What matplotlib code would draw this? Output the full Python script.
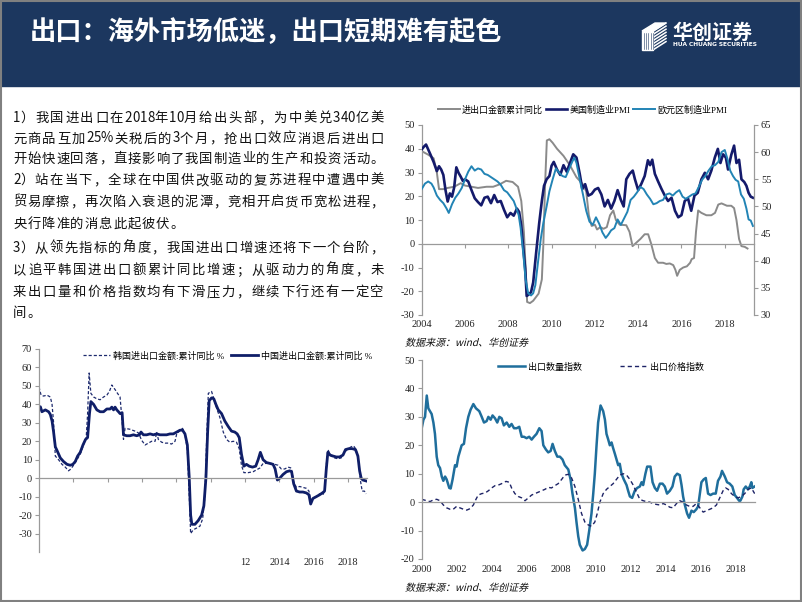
import matplotlib
matplotlib.use("Agg")
import matplotlib.pyplot as plt
from matplotlib.patches import Rectangle, Polygon, PathPatch
from matplotlib.textpath import TextPath
from matplotlib.font_manager import FontProperties
from matplotlib.transforms import Affine2D

plt.rcParams['font.family'] = ['Liberation Serif', 'Noto Sans CJK SC']
plt.rcParams['axes.unicode_minus'] = False

# ---------------- data ----------------
title = "出口：海外市场低迷，出口短期难有起色"
source = "数据来源：wind、华创证券"
body_lines = [
    "1）我国进出口在2018年10月给出头部，为中美兑340亿美",
    "元商品互加25%关税后的3个月，抢出口效应消退后进出口",
    "开始快速回落，直接影响了我国制造业的生产和投资活动。",
    "2）站在当下，全球在中国供改驱动的复苏进程中遭遇中美",
    "贸易摩擦，再次陷入衰退的泥潭，竞相开启货币宽松进程，",
    "央行降准的消息此起彼伏。",
    "3）从领先指标的角度，我国进出口增速还将下一个台阶，",
    "以追平韩国进出口额累计同比增速；从驱动力的角度，未",
    "来出口量和价格指数均有下滑压力，继续下行还有一定空",
    "间。",
]

# top right: trade yoy (left axis), US / euro PMI (right axis)
trade_x = [2004.0, 2004.3, 2004.55, 2004.7, 2004.8, 2005.0, 2005.2, 2005.5, 2005.8, 2006.0,
           2006.3, 2006.6, 2007.0, 2007.3, 2007.6, 2007.9, 2008.2, 2008.45, 2008.6, 2008.72,
           2008.8, 2008.87, 2009.0, 2009.15, 2009.4, 2009.55, 2009.62, 2009.7, 2009.78, 2009.9,
           2010.05, 2010.25, 2010.55, 2010.85, 2011.15, 2011.45, 2011.6, 2011.72, 2011.85, 2012.0,
           2012.1, 2012.25, 2012.4, 2012.55, 2012.7, 2012.85, 2012.97, 2013.15, 2013.45, 2013.6,
           2013.74, 2013.92, 2014.1, 2014.3, 2014.46, 2014.6, 2014.77, 2014.92, 2015.15, 2015.3,
           2015.46, 2015.62, 2015.72, 2015.8, 2015.92, 2016.08, 2016.25, 2016.4, 2016.47, 2016.58,
           2016.67, 2016.77, 2016.92, 2017.15, 2017.38, 2017.55, 2017.7, 2017.85, 2018.1, 2018.3,
           2018.43, 2018.54, 2018.66, 2018.77, 2018.92, 2019.05]
trade_y = [39, 37.5, 36, 30, 23, 23, 23.5, 24, 25.5, 24.5,
           24, 23.5, 24, 24, 25, 26.5, 26, 24, 18, 5,
           -10, -24.5, -25, -24, -21, -15, 0, 25, 43.5, 44,
           42.5, 40, 37, 33, 28, 25, 22, 12, 7.5, 8,
           6, 7, 6.3, 7, 12, 14, 10, 8, 7.8, 5,
           -1, 0.5, 2, 4, 4, 0, -6, -8, -8, -8.5,
           -8.3, -9, -11, -13.5, -11, -10, -9.5, -8, -6.5, -6,
           5, 14, 13, 12, 12, 13, 16.5, 17, 16, 16,
           15, 10, 2, -1, -1.3, -2]

us_x = [2004.0, 2004.1, 2004.2, 2004.3, 2004.4, 2004.55, 2004.7, 2004.8, 2004.9, 2005.0,
        2005.1, 2005.2, 2005.3, 2005.4, 2005.5, 2005.6, 2005.7, 2005.8, 2005.9, 2006.0,
        2006.15, 2006.3, 2006.45, 2006.6, 2006.75, 2006.9, 2007.05, 2007.2, 2007.35, 2007.5,
        2007.65, 2007.8, 2007.95, 2008.1, 2008.25, 2008.4, 2008.5, 2008.6, 2008.7, 2008.78,
        2008.85, 2008.95, 2009.05, 2009.15, 2009.3, 2009.43, 2009.55, 2009.65, 2009.77, 2009.9,
        2010.0, 2010.1, 2010.25, 2010.4, 2010.55, 2010.7, 2010.85, 2011.0, 2011.15, 2011.3,
        2011.42, 2011.55, 2011.7, 2011.85, 2012.0, 2012.15, 2012.3, 2012.45, 2012.6, 2012.75,
        2012.9, 2013.05, 2013.2, 2013.33, 2013.45, 2013.6, 2013.75, 2013.85, 2014.0, 2014.15,
        2014.3, 2014.45, 2014.55, 2014.65, 2014.77, 2014.92, 2015.08, 2015.23, 2015.38, 2015.54,
        2015.7, 2015.85, 2016.0, 2016.15, 2016.3, 2016.45, 2016.6, 2016.75, 2016.92, 2017.08,
        2017.23, 2017.38, 2017.54, 2017.68, 2017.8, 2017.92, 2018.05, 2018.15, 2018.3, 2018.43,
        2018.54, 2018.66, 2018.77, 2018.9, 2019.0, 2019.1, 2019.2, 2019.3]
us_pmi = [60.5, 61.0, 61.4, 60.5, 59.6, 58.2, 56.5, 57.4, 56.8, 55.8,
          53.0, 50.9, 52.4, 51.8, 53.5, 57.2, 56.2, 55.5, 54.7, 55.0,
          54.6, 53.0, 51.5, 50.8, 50.2, 51.6, 51.8, 50.6, 52.1, 50.8,
          51.0, 49.4, 48.0, 48.8, 48.3, 49.6, 49.0, 46.5, 42.0, 38.5,
          33.5, 33.8, 34.2, 36.0, 42.0, 47.0, 51.0, 53.8, 55.0, 55.6,
          57.5, 58.2, 56.8, 55.8, 57.6, 56.4, 58.0, 59.6, 59.0, 56.0,
          53.2, 54.1, 52.0, 52.3, 53.1, 53.4, 52.2, 50.0, 51.2, 49.6,
          51.0, 53.0, 51.2, 50.0, 55.0, 56.0, 56.6, 55.0, 53.0, 54.2,
          55.6, 58.5, 57.6, 58.6, 56.0, 54.6, 53.2, 52.0, 51.0, 51.6,
          49.2, 48.0, 48.4, 51.0, 51.5, 49.2, 52.0, 52.5, 55.0, 56.2,
          55.0, 56.6, 59.0, 60.6, 58.0, 59.6, 59.0, 56.8, 59.5, 61.2,
          58.0, 58.6, 55.0, 54.5, 53.8, 52.5, 51.8, 51.6]

eu_x = [2004.0, 2004.15, 2004.3, 2004.45, 2004.55, 2004.7, 2004.85, 2005.0, 2005.15, 2005.25,
        2005.4, 2005.55, 2005.7, 2005.85, 2006.0, 2006.15, 2006.3, 2006.45, 2006.6, 2006.75,
        2006.9, 2007.05, 2007.2, 2007.35, 2007.5, 2007.65, 2007.8, 2007.95, 2008.1, 2008.25,
        2008.38, 2008.48, 2008.57, 2008.7, 2008.8, 2008.92, 2009.05, 2009.15, 2009.25, 2009.38,
        2009.5, 2009.62, 2009.77, 2009.9, 2010.05, 2010.2, 2010.35, 2010.5, 2010.65, 2010.8,
        2010.95, 2011.05, 2011.15, 2011.3, 2011.45, 2011.6, 2011.75, 2011.9, 2012.05, 2012.2,
        2012.35, 2012.5, 2012.62, 2012.75, 2012.9, 2013.05, 2013.2, 2013.35, 2013.5, 2013.65,
        2013.8, 2013.95, 2014.1, 2014.25, 2014.4, 2014.55, 2014.7, 2014.85, 2015.0, 2015.15,
        2015.3, 2015.45, 2015.6, 2015.75, 2015.9, 2016.05, 2016.2, 2016.35, 2016.5, 2016.65,
        2016.8, 2016.95, 2017.1, 2017.25, 2017.4, 2017.55, 2017.7, 2017.85, 2018.0, 2018.12,
        2018.25, 2018.38, 2018.5, 2018.62, 2018.75, 2018.88, 2019.0, 2019.1, 2019.2, 2019.3]
eu_pmi = [53.2, 54.2, 54.6, 54.2, 53.5, 52.0, 51.2, 50.6, 49.6, 48.8,
          50.4, 51.6, 52.4, 53.4, 55.0, 56.4, 57.4, 56.6, 57.0, 56.8,
          56.0, 55.8, 55.4, 55.0, 54.6, 54.0, 53.0, 52.6, 51.8, 51.0,
          49.6, 48.4, 46.0, 41.0, 36.5, 34.0, 33.6, 34.0, 35.5, 40.0,
          44.0, 47.0, 50.0, 52.8, 55.0, 57.0, 56.2, 55.6, 55.4, 56.8,
          58.2, 59.0, 58.0, 55.0, 52.2, 49.2, 47.2, 46.6, 48.0, 46.8,
          45.2, 44.2, 44.8, 45.6, 46.0, 47.6, 46.6, 47.8, 49.0, 51.2,
          51.8, 52.6, 53.6, 53.2, 52.2, 51.4, 50.4, 50.6, 51.0, 51.2,
          52.2, 52.4, 52.0, 52.6, 53.0, 51.8, 51.4, 51.8, 52.2, 52.4,
          53.6, 54.9, 55.6, 56.6, 57.4, 57.6, 58.2, 60.0, 60.4, 58.8,
          56.6, 55.6, 54.9, 54.6, 52.2, 51.4, 49.6, 47.6, 47.4, 46.4]

# bottom left: Korea / China trade cumulative yoy
cn_x = [2000.0, 2000.08, 2000.17, 2000.37, 2000.56, 2000.66, 2000.76, 2000.85, 2000.95, 2001.05,
        2001.24, 2001.43, 2001.63, 2001.82, 2001.97, 2002.11, 2002.25, 2002.4, 2002.56, 2002.71,
        2002.83, 2002.94, 2003.02, 2003.18, 2003.37, 2003.56, 2003.76, 2003.95, 2004.14, 2004.24,
        2004.34, 2004.43, 2004.53, 2004.63, 2004.72, 2004.84, 2004.92, 2005.11, 2005.3, 2005.5,
        2005.69, 2005.85, 2005.94, 2006.08, 2006.27, 2006.47, 2006.66, 2006.85, 2007.05, 2007.24,
        2007.43, 2007.63, 2007.82, 2008.02, 2008.21, 2008.36, 2008.5, 2008.64, 2008.75, 2008.83,
        2008.9, 2009.08, 2009.27, 2009.47, 2009.6, 2009.72, 2009.82, 2009.91, 2010.05, 2010.18,
        2010.3, 2010.44, 2010.63, 2010.82, 2011.02, 2011.21, 2011.4, 2011.54, 2011.66, 2011.79,
        2011.93, 2012.08, 2012.24, 2012.43, 2012.62, 2012.76, 2012.89, 2013.05, 2013.24, 2013.44,
        2013.63, 2013.75, 2013.88, 2014.02, 2014.21, 2014.41, 2014.6, 2014.71, 2014.83, 2014.99,
        2015.18, 2015.37, 2015.57, 2015.72, 2015.82, 2015.95, 2016.15, 2016.34, 2016.5, 2016.63,
        2016.73, 2016.82, 2016.96, 2017.12, 2017.31, 2017.5, 2017.7, 2017.85, 2018.04, 2018.24,
        2018.43, 2018.57, 2018.67, 2018.76, 2018.86, 2019.05]
cn_y = [38, 38.7, 36, 37, 36, 34.5, 31, 25, 17, 15,
        11, 9, 7.5, 7, 7.5, 9, 12, 14, 18, 21,
        22, 35, 41.5, 40, 37, 36, 36, 37.5, 37.5, 38.5,
        37, 38.5, 37, 36, 35, 35.5, 23.5, 23, 23, 23.5,
        23, 23.5, 25, 23.5, 23.5, 24, 23.5, 24, 23.5, 23.5,
        23.5, 24, 24, 25, 26, 26, 24, 18, 0, -20,
        -25, -25, -23, -20, -15, 0, 25, 42, 43.5, 43,
        40, 37, 35, 31, 28, 25.5, 25, 24, 22, 13,
        6.5, 7.5, 6.5, 6, 6.5, 10, 14, 10, 8.5, 8,
        7.5, 5, -1, 0, 2, 3.5, 4, 3.5, -3, -7,
        -7.5, -7.5, -8, -9, -14, -11, -10, -9, -8, -7,
        5, 14, 12.5, 12, 11.5, 11.5, 12.5, 15.5, 16, 16,
        15.5, 12, 4, 0, -1, -1.5]

kr_x = [2000.0, 2000.12, 2000.27, 2000.46, 2000.66, 2000.76, 2000.85, 2000.95, 2001.14, 2001.34,
        2001.53, 2001.72, 2001.86, 2002.01, 2002.21, 2002.4, 2002.59, 2002.75, 2002.83, 2002.92,
        2003.02, 2003.18, 2003.37, 2003.56, 2003.76, 2003.95, 2004.1, 2004.24, 2004.43, 2004.57,
        2004.72, 2004.82, 2004.92, 2005.01, 2005.3, 2005.59, 2005.79, 2005.98, 2006.18, 2006.37,
        2006.56, 2006.76, 2006.85, 2006.95, 2007.14, 2007.34, 2007.53, 2007.72, 2007.92, 2008.02,
        2008.21, 2008.36, 2008.5, 2008.64, 2008.75, 2008.83, 2008.98, 2009.18, 2009.37, 2009.53,
        2009.66, 2009.76, 2009.86, 2010.05, 2010.18, 2010.34, 2010.53, 2010.73, 2010.92, 2011.11,
        2011.31, 2011.5, 2011.66, 2011.79, 2011.93, 2012.18, 2012.47, 2012.66, 2012.86, 2013.05,
        2013.24, 2013.53, 2013.73, 2013.92, 2014.11, 2014.31, 2014.5, 2014.69, 2014.83, 2014.99,
        2015.18, 2015.37, 2015.57, 2015.72, 2015.82, 2015.95, 2016.15, 2016.34, 2016.53, 2016.63,
        2016.73, 2016.82, 2017.01, 2017.21, 2017.41, 2017.6, 2017.79, 2017.99, 2018.18, 2018.32,
        2018.47, 2018.63, 2018.73, 2018.82, 2018.95, 2019.05]
kr_y = [49.5, 45, 44.5, 45, 44, 40, 30, 12, 10, 7.5,
        6, 4, 5, 7, 10, 13, 18, 22, 35, 57,
        46, 44, 43, 42.5, 44, 45, 47, 50.5, 48, 46,
        44, 33, 21, 27, 26.5, 25.5, 24.5, 20.5, 18, 19,
        20, 20, 25, 21, 19.5, 19, 19, 18.5, 20, 24,
        26, 27, 24, 15, -10, -30, -28, -27, -26, -22,
        -10, 20, 46, 47, 43, 38, 33, 25, 21, 19.5,
        20, 19.5, 16, 7, 3, 3, 3.5, 4.5, 5.5, 8,
        8, 8, 7.5, 7, 5, 5, 6, 5.5, -2, -5,
        -4.5, -5, -5.5, -7, -12, -11, -10, -8.5, -9, -7,
        7, 15.5, 12, 11, 10.5, 11, 14, 16, 17, 17.5,
        15.5, 8, -2, -7, -7, -8.5]

# bottom right: export volume / price index
vol_x = [2000.0, 2000.1, 2000.19, 2000.29, 2000.38, 2000.57, 2000.67, 2000.76, 2000.86, 2000.95,
         2001.05, 2001.15, 2001.24, 2001.34, 2001.43, 2001.58, 2001.66, 2001.77, 2001.91, 2002.0,
         2002.1, 2002.29, 2002.42, 2002.54, 2002.67, 2002.8, 2002.96, 2003.11, 2003.3, 2003.44,
         2003.57, 2003.72, 2003.82, 2003.95, 2004.06, 2004.2, 2004.33, 2004.45, 2004.58, 2004.71,
         2004.87, 2005.02, 2005.15, 2005.29, 2005.44, 2005.59, 2005.73, 2005.86, 2006.01, 2006.16,
         2006.3, 2006.43, 2006.58, 2006.74, 2006.87, 2006.97, 2007.12, 2007.25, 2007.39, 2007.5,
         2007.63, 2007.77, 2007.92, 2008.07, 2008.2, 2008.4, 2008.53, 2008.64, 2008.78, 2008.87,
         2008.97, 2009.06, 2009.22, 2009.35, 2009.48, 2009.6, 2009.73, 2009.83, 2009.92, 2010.02,
         2010.11, 2010.25, 2010.4, 2010.5, 2010.59, 2010.69, 2010.78, 2010.88, 2010.97, 2011.07,
         2011.26, 2011.35, 2011.45, 2011.58, 2011.74, 2011.83, 2011.93, 2012.06, 2012.21, 2012.35,
         2012.5, 2012.6, 2012.69, 2012.82, 2012.92, 2013.11, 2013.23, 2013.36, 2013.49, 2013.65,
         2013.8, 2013.93, 2014.06, 2014.22, 2014.37, 2014.5, 2014.64, 2014.79, 2014.89, 2014.98,
         2015.08, 2015.21, 2015.32, 2015.46, 2015.59, 2015.74, 2015.84, 2015.94, 2016.03, 2016.16,
         2016.28, 2016.41, 2016.55, 2016.7, 2016.85, 2016.98, 2017.12, 2017.21, 2017.37, 2017.5,
         2017.65, 2017.8, 2017.94, 2018.07, 2018.19, 2018.26, 2018.38, 2018.45, 2018.57, 2018.7,
         2018.8, 2018.89, 2018.95, 2019.08]
vol_y = [26, 29, 30, 37.5, 33, 31, 28, 24, 16, 13,
         12, 9, 7.5, 9, 8, 5, 4.8, 8, 13, 12.5,
         16, 20, 20.5, 26, 30, 32.5, 34.5, 33, 32, 30,
         28, 28.5, 30, 29, 30.5, 29.5, 28, 30, 29.5, 27,
         28, 26.5, 27.5, 26, 26, 26.5, 23, 23, 22.5, 23,
         22, 23, 24, 26, 25, 20, 18.5, 17.5, 18, 20.5,
         18, 16, 16, 15, 13, 11.5, 8, 3, -2, -7,
         -12, -15, -17, -16.5, -15, -10, -4, 3, 10, 20,
         28, 34, 32, 29, 24, 22, 20, 21, 19, 17,
         13, 13.5, 10, 8, 6, 4, 2, 1.5, 4, 5,
         5.5, 7, 6, 10, 12.5, 12.5, 7, 5, 4, 6.5,
         6.5, 5.5, 3, 4, 5.5, 9, 10, 9.5, 6, 2,
         -1, -4, -5.5, -3, -3.5, -2.5, -1.5, 3, 7, 8,
         8.5, 3, 2.5, 3, 3, 7.5, 9, 11, 9, 7,
         6.5, 5.5, 2.5, 1.5, 0.5, 0.5, 2, 4.5, 5.5, 4.5,
         5.5, 7, 5, 5.5]

price_x = [2000.0, 2000.29, 2000.48, 2000.67, 2000.86, 2001.05, 2001.24, 2001.43, 2001.62, 2001.81,
           2002.0, 2002.19, 2002.39, 2002.58, 2002.77, 2002.96, 2003.11, 2003.24, 2003.44, 2003.63,
           2003.82, 2004.01, 2004.2, 2004.39, 2004.58, 2004.83, 2005.02, 2005.15, 2005.34, 2005.53,
           2005.73, 2005.92, 2006.11, 2006.3, 2006.49, 2006.68, 2006.87, 2007.06, 2007.25, 2007.44,
           2007.63, 2007.82, 2008.02, 2008.2, 2008.4, 2008.59, 2008.78, 2008.97, 2009.16, 2009.35,
           2009.54, 2009.73, 2009.92, 2010.06, 2010.21, 2010.4, 2010.59, 2010.78, 2010.97, 2011.16,
           2011.35, 2011.55, 2011.74, 2011.93, 2012.12, 2012.31, 2012.5, 2012.69, 2012.88, 2013.07,
           2013.26, 2013.45, 2013.65, 2013.84, 2014.03, 2014.22, 2014.41, 2014.6, 2014.79, 2014.98,
           2015.17, 2015.36, 2015.55, 2015.74, 2015.94, 2016.13, 2016.32, 2016.51, 2016.7, 2016.89,
           2017.08, 2017.27, 2017.42, 2017.56, 2017.75, 2017.94, 2018.13, 2018.32, 2018.51, 2018.7,
           2018.89, 2019.08]
price_y = [1, 0.5, 0.2, 0.8, 1, 0.5, -1, -2, -2.5, -2.5,
           -1.5, -2, -2.5, -2.8, -2.3, -1, 1, 2.5, 3, 3.2,
           4, 5, 5.8, 6, 6.5, 7.3, 7, 5, 3, 2,
           1.5, 0.5, 1.5, 2.5, 3, 3.5, 4, 4.5, 5.2, 5,
           5.8, 6.5, 8, 9.5, 9.8, 8.5, 5.5, 1, -4, -7,
           -8, -8.5, -7, -4, 0, 3, 4.5, 5.5, 6.5, 8,
           9.5, 10, 9.5, 8, 6, 3.5, 1, 0.5, 0.2, 0,
           -0.5, -0.8, -1, -0.5, -1, -1.8, -2, -0.5, 0.5, 0,
           -1, -1.5, -1.5, -0.5, -2, -3.5, -3, -2.5, -2, -1,
           1.5, 4, 5, 4.5, 3, 2, 1.5, 2, 3, 4.5,
           5, 3]

# ---------------- page ----------------
W, H = 802, 602
NAVY = '#1c375f'
GRID = '#9a9a9a'
cjk = 'Noto Sans CJK SC'
legend_font = FontProperties(family=['Liberation Serif', cjk], size=6.5)

fig = plt.figure(figsize=(8.02, 6.02), dpi=100)
bg = fig.add_axes([0, 0, 1, 1])
bg.set_xlim(0, W)
bg.set_ylim(H, 0)
bg.axis('off')

# header bar
bg.add_patch(Rectangle((0, 0), W, 86, color=NAVY, zorder=1))
bg.text(30, 33, title, color='white', fontsize=18.9, fontweight='bold',
        family=cjk, va='center', ha='left', zorder=3)

# logo
bg.add_patch(Polygon([(642, 31), (653, 31), (653, 50), (642, 50)], color='white', zorder=2))
bg.add_patch(Polygon([(642, 31), (653, 31), (666, 23), (655, 23)], color='white', zorder=2))
for k in range(7):
    y0 = 31 + k * 3.1
    bg.plot([653.5, 666], [y0, y0 - 8], color='white', lw=1.1, zorder=2)
for k in range(5):
    bg.plot([644 + k * 2.2, 644 + k * 2.2], [33, 49], color=NAVY, lw=0.4, zorder=2)
bg.text(672, 32, "华创证券", color='white', fontsize=14.4, fontweight='bold',
        family=cjk, va='center', ha='left', zorder=3)
bg.text(673, 44.8, "HUA CHUANG SECURITIES", color='white', fontsize=4.2,
        fontweight='bold', family='DejaVu Sans', va='center', ha='left', zorder=3)

# slide frame
bg.add_patch(Rectangle((1, 1), W - 2, H - 2, fill=False, ec='#808080', lw=1.5, zorder=4))

# body text, justified character by character
x_left, x_right = 13, 385
line_ys = [118, 138.5, 158.5, 180, 202, 224, 248, 270, 292, 313]
justify = [True, True, True, True, True, False, True, True, True, False]
for s, y, jst in zip(body_lines, line_ys, justify):
    units = [(0.9 if c == '%' else 0.5) if ord(c) < 128 else 1.0 for c in s]
    step = (x_right - x_left) / sum(units) if jst else 14.3
    pos = x_left
    for c, u in zip(s, units):
        bg.text(pos, y, c, fontsize=9.6, family=cjk, va='center', ha='left', color='#111111')
        pos += u * step


def slanted(x, y, s, size):
    tp = TextPath((0, 0), s, size=size, prop=FontProperties(family=cjk))
    tr = Affine2D().skew_deg(14, 0).scale(1, -1).translate(x, y)
    bg.add_patch(PathPatch(tr.transform_path(tp), fc='#111111', ec='none', lw=0))


slanted(405, 346, source, 10)
slanted(405, 591, source, 10)


def frame(ax, xlim, ylim, yticks, xticks, xlabels, label_pad, tick_x=True):
    ax.set_xlim(*xlim)
    ax.set_ylim(*ylim)
    ax.patch.set_alpha(0)
    for side in ['top', 'right']:
        ax.spines[side].set_visible(False)
    ax.spines['left'].set_color(GRID)
    ax.spines['left'].set_linewidth(0.9)
    ax.spines['bottom'].set_position(('data', 0))
    ax.spines['bottom'].set_color(GRID)
    ax.spines['bottom'].set_linewidth(0.9)
    ax.set_yticks(yticks)
    ax.tick_params(axis='y', direction='out', length=3, color=GRID, width=0.8,
                   labelsize=7.5, pad=2, labelcolor='#222222')
    ax.set_xticks(xticks if tick_x else [])
    ax.tick_params(axis='x', direction='out', length=3, color=GRID, width=0.8,
                   labelbottom=False)
    sec = ax.secondary_xaxis(0)
    sec.set_xticks(xticks, labels=xlabels)
    sec.spines['bottom'].set_visible(False)
    sec.tick_params(length=0, pad=label_pad, labelsize=7.5, labelcolor='#222222')
    return sec


# ---------------- top right chart ----------------
ax1 = fig.add_axes([421.7 / W, 1 - 315 / H, (754 - 421.7) / W, 190 / H])
yrs = list(range(2004, 2019, 2))
frame(ax1, (2004, 2019.35), (-30, 50), range(-30, 51, 10), yrs, [str(v) for v in yrs], 3.5)
l_tr, = ax1.plot(trade_x, trade_y, color='#8a8a8a', lw=1.4, label='进出口金额累计同比')
ax2 = ax1.twinx()
ax2.set_ylim(30, 65)
ax2.set_yticks(range(30, 66, 5))
for side in ['top', 'left', 'bottom']:
    ax2.spines[side].set_visible(False)
ax2.spines['right'].set_color(GRID)
ax2.spines['right'].set_linewidth(0.9)
ax2.tick_params(axis='y', direction='out', length=3, color=GRID, width=0.8,
                labelsize=7.5, pad=2, labelcolor='#222222')
l_us, = ax2.plot(us_x, us_pmi, color='#141a6b', lw=1.9, label='美国制造业PMI')
l_eu, = ax2.plot(eu_x, eu_pmi, color='#2284b5', lw=1.4, label='欧元区制造业PMI')
ax2.legend(handles=[l_tr, l_us, l_eu], loc='center left',
           bbox_to_anchor=((438 - 421.7) / 332.3, 1 + 15 / 190), ncol=3, frameon=False,
           prop=legend_font, handlelength=2.4, handletextpad=0.25, columnspacing=0.3,
           borderaxespad=0, borderpad=0)

# ---------------- bottom right chart ----------------
ax3 = fig.add_axes([421.7 / W, 1 - 559 / H, (755 - 421.7) / W, 199 / H])
yrs = list(range(2000, 2019, 2))
frame(ax3, (2000, 2019.1), (-20, 50), range(-20, 51, 10), yrs, [str(v) for v in yrs], 4.3)
ax3.tick_params(axis='x', length=0)
l_vol, = ax3.plot(vol_x, vol_y, color='#1f6e9c', lw=1.8, label='出口数量指数')
l_pr, = ax3.plot(price_x, price_y, color='#1d2366', lw=1.0, ls=(0, (3, 2.2)), label='出口价格指数')
ax3.legend(handles=[l_vol, l_pr], loc='center left',
           bbox_to_anchor=((498 - 421.7) / 333.3, 1 - 7 / 199), ncol=2, frameon=False,
           prop=legend_font, handlelength=3.0, handletextpad=0.35, columnspacing=4.2,
           borderaxespad=0, borderpad=0)

# ---------------- bottom left chart ----------------
ax4 = fig.add_axes([39 / W, 1 - 552 / H, (367 - 39) / W, 203 / H])
frame(ax4, (2000, 2019.1), (-40, 70), range(-30, 71, 10), list(range(2002, 2019, 2)),
      ['', '', '', '', '', '12', '2014', '2016', '2018'], 4.5)
l_kr, = ax4.plot(kr_x, kr_y, color='#1d2a6e', lw=0.9, ls=(0, (2.5, 1.6)),
                 label='韩国进出口金额:累计同比 %')
l_cn, = ax4.plot(cn_x, cn_y, color='#0f1e68', lw=2.0, label='中国进出口金额:累计同比 %')
ax4.legend(handles=[l_kr, l_cn], loc='center left',
           bbox_to_anchor=((83 - 39) / 328, 1 - 7 / 203), ncol=2, frameon=False,
           prop=legend_font, handlelength=3.0, handletextpad=0.35, columnspacing=0.7,
           borderaxespad=0, borderpad=0)

fig.savefig('out.png', dpi=100)
